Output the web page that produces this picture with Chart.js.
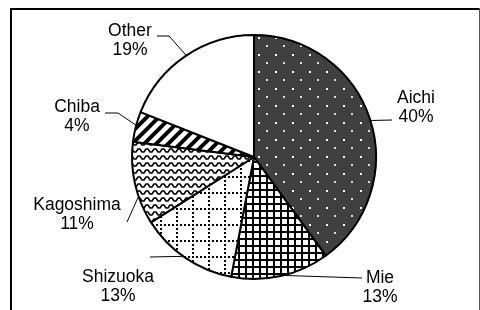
<!DOCTYPE html>
<html>
<head>
<meta charset="utf-8">
<script src="https://cdn.jsdelivr.net/npm/chart.js@4"></script>
<style>
  html, body { margin: 0; padding: 0; background: #fff; }
  #wrap { width: 480px; height: 310px; }
</style>
</head>
<body>
<div id="wrap"><canvas id="pieChart" width="480" height="310"></canvas></div>
<script>
// data
const regions = ['Aichi', 'Mie', 'Shizuoka', 'Kagoshima', 'Chiba', 'Other'];
const shares = [40, 13, 13, 11, 4, 19];

// label layout: text centre, leader points (first one is snapped onto the rim)
const labelText = [[416, 98], [380, 278], [118, 277], [77, 205], [77, 107], [130, 31]];
const leaders = [
    [[372, 120], [392, 120]],
    [[284, 278], [362, 278]],
    [[182, 258], [150, 257]],
    [[134, 198], [127, 222]],
    [[135, 125], [118, 113], [105, 113]],
    [[186, 55], [169, 36], [157, 36]]
];

function makeTile(w, h, draw) {
    const c = document.createElement('canvas');
    c.width = w; c.height = h;
    const g = c.getContext('2d');
    draw(g);
    return document.createElement('canvas').getContext('2d').createPattern(c, 'repeat');
}

const dots = makeTile(17, 17, g => {
    g.fillStyle = '#404040'; g.fillRect(0, 0, 17, 17);
    g.fillStyle = '#fff';
    g.fillRect(3, 3, 2, 2);
    g.fillStyle = '#ddd';
    g.fillRect(11, 11, 2, 2);
});
const grid = makeTile(7, 7, g => {
    g.fillStyle = '#fff'; g.fillRect(0, 0, 7, 7);
    g.fillStyle = '#000';
    g.fillRect(0, 0, 7, 2);
    g.fillRect(0, 0, 2, 7);
});
const dottedGrid = makeTile(16, 16, g => {
    g.fillStyle = '#fff'; g.fillRect(0, 0, 16, 16);
    g.fillStyle = '#000';
    for (let i = 0; i < 16; i += 4) {
        g.fillRect(i, 0, 2, 2);
        g.fillRect(0, i, 2, 2);
    }
});
const wave = makeTile(8, 7, g => {
    g.fillStyle = '#fff'; g.fillRect(0, 0, 8, 7);
    g.strokeStyle = '#000'; g.lineWidth = 1.6;
    g.beginPath();
    g.moveTo(-2, 5); g.lineTo(0, 5); g.lineTo(2, 2); g.lineTo(4, 2); g.lineTo(6, 5); g.lineTo(8, 5); g.lineTo(10, 2);
    g.stroke();
});
const stripes = makeTile(12, 12, g => {
    g.fillStyle = '#fff'; g.fillRect(0, 0, 12, 12);
    g.strokeStyle = '#000'; g.lineWidth = 4;
    g.beginPath();
    g.moveTo(-6, 18); g.lineTo(18, -6);
    g.moveTo(-12, 12); g.lineTo(12, -12);
    g.moveTo(0, 24); g.lineTo(24, 0);
    g.stroke();
});

const fills = [dots, grid, dottedGrid, wave, stripes, '#fff'];

const framePlugin = {
    id: 'frame',
    beforeDraw(chart) {
        const ctx = chart.ctx;
        ctx.save();
        ctx.fillStyle = '#fff';
        ctx.fillRect(0, 0, chart.width, chart.height);
        ctx.fillStyle = '#000';
        ctx.fillRect(10, 8, 2, chart.height);
        ctx.fillRect(10, 8, chart.width - 10, 2);
        ctx.fillStyle = '#555';
        ctx.fillRect(chart.width - 1, 8, 1, chart.height);
        ctx.restore();
    }
};

const labelPlugin = {
    id: 'sliceLabels',
    afterDatasetsDraw(chart) {
        const ctx = chart.ctx;
        const arcs = chart.getDatasetMeta(0).data;
        const total = shares.reduce((a, b) => a + b, 0);
        ctx.save();
        ctx.strokeStyle = '#000';
        ctx.lineWidth = 1;
        arcs.forEach((arc, i) => {
            const p = arc.getProps(['x', 'y', 'outerRadius'], true);
            const pts = leaders[i];
            const dx = pts[0][0] - p.x, dy = pts[0][1] - p.y;
            const d = Math.sqrt(dx * dx + dy * dy);
            ctx.beginPath();
            ctx.moveTo(p.x + dx / d * p.outerRadius, p.y + dy / d * p.outerRadius);
            for (let k = 1; k < pts.length; k++) ctx.lineTo(pts[k][0], pts[k][1]);
            ctx.stroke();

            ctx.fillStyle = '#000';
            ctx.font = '17.5px "Liberation Sans", Arial, sans-serif';
            ctx.textAlign = 'center';
            ctx.textBaseline = 'middle';
            const [tx, ty] = labelText[i];
            ctx.fillText(regions[i], tx, ty);
            ctx.fillText(Math.round(shares[i] / total * 100) + '%', tx, ty + 19);
        });
        ctx.restore();
    }
};

new Chart(document.getElementById('pieChart'), {
    type: 'pie',
    data: {
        labels: regions,
        datasets: [{
            data: shares,
            backgroundColor: fills,
            borderColor: '#000',
            borderWidth: 2
        }]
    },
    options: {
        responsive: false,
        animation: false,
        layout: { padding: { left: 131, right: 103, top: 34, bottom: 30 } },
        plugins: {
            legend: { display: false },
            tooltip: { enabled: false }
        }
    },
    plugins: [framePlugin, labelPlugin]
});
</script>
</body>
</html>
